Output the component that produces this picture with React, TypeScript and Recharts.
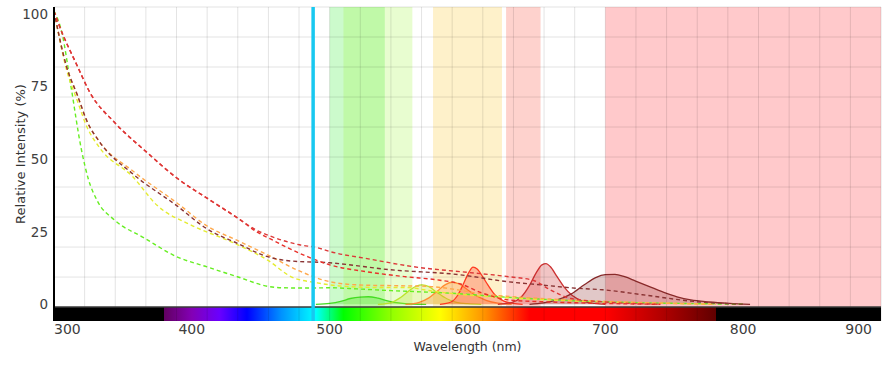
import { ComposedChart, XAxis, YAxis, Line, Area, ReferenceArea, ReferenceLine } from "recharts";

type Pt = [number, number];

const X_TICKS = [300, 400, 500, 600, 700, 800, 900];
const Y_TICKS = [0, 25, 50, 75, 100];

// Plot range; the strip below zero holds the colour bar
const X_DOMAIN: [number, number] = [300, 900];
const Y_DOMAIN: [number, number] = [-5.75, 102.41];
const AXIS_Y = -0.95;

const LASER_NM = 488;

// Filter windows (nm)
const FILTER_BANDS: Pt[] = [
  [500, 540],
  [510, 560],
  [575, 625],
  [628, 653],
  [700, 900],
];

// Visible spectrum strip, nm -> colour
const SPECTRUM_STOPS: [number, string][] = [
  [300, "#000000"],
  [379.8, "#000000"],
  [380, "#610061"],
  [400, "#8300b5"],
  [420, "#6a00ff"],
  [440, "#0000ff"],
  [465, "#0092ff"],
  [490, "#00ffff"],
  [510, "#00ff00"],
  [545, "#92ff00"],
  [580, "#ffff00"],
  [612, "#ff9400"],
  [645, "#ff0000"],
  [700, "#ff0000"],
  [740, "#b40000"],
  [780, "#610000"],
  [780.2, "#000000"],
  [900, "#000000"],
];

// Excitation spectra (dashed)
const EX_525: Pt[] = [
  [300, 101], [306, 93], [312, 76], [320, 53], [325, 43], [331, 36], [344, 29], [365, 23],
  [389, 16.4], [411, 12.9], [433, 9.5], [455, 6.2], [465, 5.7], [485, 5.6], [500, 5.7],
  [520, 5.3], [545, 4.7], [585, 3.9], [630, 2.4], [680, 1.2], [720, 0.6], [770, 0.2], [800, 0],
];
const EX_565: Pt[] = [
  [300, 101], [309, 81], [317, 70], [324, 61], [333, 54], [357, 44], [375, 34], [399, 27.4],
  [430, 21.2], [455, 15.2], [473, 9.3], [491, 7.4], [510, 6.2], [535, 5.8], [555, 5.8],
  [575, 4.5], [600, 3.2], [630, 2.2], [680, 1.1], [720, 0.6], [780, 0],
];
const EX_585: Pt[] = [
  [300, 101], [309, 82], [317, 72], [324, 63], [333, 56], [357, 46], [389, 35], [411, 27],
  [433, 22], [455, 17], [478, 11.5], [502, 7.6], [525, 6.6], [550, 6.4], [570, 6.2],
  [590, 5.2], [610, 3.6], [640, 2.4], [680, 1.4], [720, 0.7], [780, 0],
];
const EX_605: Pt[] = [
  [300, 101], [303, 97], [317, 82], [326, 73], [344, 62.6], [367, 52.5], [389, 43.5],
  [413, 36], [433, 29.8], [447, 25], [457, 22.5], [484, 16.4], [500, 13.6], [527, 11.2],
  [555, 9.5], [580, 8.3], [595, 7], [610, 4], [630, 1.5], [660, 0.8], [700, 0.3], [740, 0],
];
const EX_655: Pt[] = [
  [300, 101], [303, 97], [317, 82], [326, 73], [344, 62.6], [367, 52.5], [389, 43.6],
  [413, 35.9], [433, 29.8], [447, 25.5], [457, 23.5], [478, 20.5], [491, 19.5], [500, 18.2],
  [530, 15.5], [560, 13], [600, 11], [630, 9.5], [648, 8.2], [660, 5], [675, 2], [700, 0.8],
  [740, 0],
];
const EX_705: Pt[] = [
  [300, 101], [309, 82], [317, 72], [324, 63], [333, 56], [357, 45], [389, 34], [411, 26],
  [433, 21], [455, 16.4], [470, 15], [500, 14.3], [544, 11.9], [594, 10.2], [629, 7.8],
  [653, 6.7], [680, 5.5], [698, 5], [727, 3.3], [764, 1], [800, 0],
];

// Emission spectra (filled)
const EM_525: Pt[] = [
  [490, 0], [500, 0.3], [508, 1], [515, 2], [522, 2.5], [528, 2.6], [535, 2.1], [542, 1.2],
  [550, 0.5], [560, 0.1], [570, 0],
];
const EM_565: Pt[] = [
  [535, 0], [545, 0.7], [552, 2.5], [558, 4.8], [563, 6.3], [567, 6.7], [572, 6.1], [578, 4],
  [585, 1.9], [592, 0.7], [600, 0.2], [610, 0],
];
const EM_585: Pt[] = [
  [555, 0], [565, 0.7], [572, 2.2], [578, 4.5], [584, 6.8], [589, 7.6], [594, 7], [600, 5],
  [607, 2.8], [614, 1.3], [622, 0.4], [632, 0],
];
const EM_605: Pt[] = [
  [580, 0], [588, 0.8], [593, 3.2], [597, 7], [601, 11], [604, 12.8], [607, 12.2], [611, 9.5],
  [615, 6.5], [620, 3.2], [626, 1.2], [633, 0.3], [640, 0],
];
const EM_655: Pt[] = [
  [622, 0], [632, 0.6], [639, 2.5], [645, 6.5], [650, 11], [654, 13.6], [657, 14], [660, 13],
  [665, 9.5], [670, 6], [676, 3], [683, 1.2], [692, 0.3], [700, 0],
];
const EM_705: Pt[] = [
  [645, 0], [655, 0.5], [665, 1.5], [675, 3.5], [685, 6.8], [693, 9.2], [700, 10.2], [707, 10.3],
  [714, 9.5], [722, 8], [732, 6.1], [742, 4.2], [752, 2.6], [762, 1.5], [775, 0.8], [790, 0.3],
  [805, 0],
];

const BAND_COLORS = [
  "rgba(0, 230, 0, 0.2)",
  "rgba(150, 245, 40, 0.22)",
  "rgba(250, 200, 50, 0.26)",
  "rgba(250, 80, 60, 0.26)",
  "rgba(255, 60, 70, 0.28)",
];

const FONT = "'DejaVu Sans', Verdana, sans-serif";

const EXCITATION = [
  { data: EX_525, color: "#66ee22" },
  { data: EX_565, color: "#e4ec30" },
  { data: EX_585, color: "#ffa84a" },
  { data: EX_705, color: "#8a3434" },
  { data: EX_605, color: "#e8302a" },
  { data: EX_655, color: "#dc3838" },
];

const EMISSION = [
  { data: EM_525, color: "#44dd22", alpha: 0.3 },
  { data: EM_565, color: "#bde32b", alpha: 0.3 },
  { data: EM_585, color: "#ff8c30", alpha: 0.3 },
  { data: EM_605, color: "#ff3a20", alpha: 0.3 },
  { data: EM_655, color: "#cc3030", alpha: 0.28 },
  { data: EM_705, color: "#8a2a2a", alpha: 0.26 },
];

// vertical grid every 1/27 of the range, horizontal every ~10.3 units down from the top
const GRID_X = Array.from({ length: 27 }, (_, i) => X_DOMAIN[0] + ((i + 1) * (X_DOMAIN[1] - X_DOMAIN[0])) / 27);
const GRID_Y = Array.from({ length: 10 }, (_, i) => Y_DOMAIN[1] - (i * (Y_DOMAIN[1] - AXIS_Y)) / 10);

const toRows = (pts: Pt[]) => pts.map(([nm, v]) => ({ nm, v }));

function XTick(props: any) {
  const { x, y, payload } = props;
  const v = payload.value;
  const anchor = v === X_TICKS[0] ? "start" : v === X_TICKS[X_TICKS.length - 1] ? "end" : "middle";
  return (
    <text x={x} y={y} dy={13} textAnchor={anchor} fontFamily={FONT} fontSize={14} fill="#404040">
      {v}
    </text>
  );
}

function YTitle(props: any) {
  const { viewBox } = props;
  const cx = viewBox.x + 20;
  const cy = viewBox.y + viewBox.height / 2 - 10;
  return (
    <text
      x={cx}
      y={cy}
      transform={`rotate(-90 ${cx} ${cy})`}
      textAnchor="middle"
      dominantBaseline="central"
      fontFamily={FONT}
      fontSize={13}
      fill="#333"
    >
      Relative Intensity (%)
    </text>
  );
}

export default function App() {
  return (
    <div style={{ position: "absolute", left: 0, top: 0, background: "#fff" }}>
      <ComposedChart width={884} height={365} margin={{ top: 7, right: 3, bottom: 0, left: 0 }}>
        <defs>
          <linearGradient id="spectrum" x1="0" y1="0" x2="1" y2="0">
            {SPECTRUM_STOPS.map(([nm, c], i) => (
              <stop key={i} offset={(nm - X_DOMAIN[0]) / (X_DOMAIN[1] - X_DOMAIN[0])} stopColor={c} />
            ))}
          </linearGradient>
        </defs>
        <XAxis
          type="number"
          dataKey="nm"
          domain={X_DOMAIN}
          ticks={X_TICKS}
          allowDataOverflow
          height={44}
          axisLine={false}
          tickLine={false}
          tickSize={0}
          tickMargin={0}
          tick={<XTick />}
          label={{
            value: "Wavelength (nm)",
            position: "insideBottom",
            offset: 14,
            fontFamily: FONT,
            fontSize: 12.5,
            fill: "#333",
          }}
        />
        <YAxis
          type="number"
          domain={Y_DOMAIN}
          ticks={Y_TICKS}
          allowDataOverflow
          width={54}
          axisLine={{ stroke: "#000", strokeWidth: 2 }}
          tickLine={false}
          tickSize={0}
          tickMargin={6}
          tick={{ fontFamily: FONT, fontSize: 13.5, fill: "#404040" }}
          label={<YTitle />}
        />

        {FILTER_BANDS.map(([a, b], i) => (
          <ReferenceArea key={`band${i}`} x1={a} x2={b} y1={AXIS_Y} y2={Y_DOMAIN[1]} fill={BAND_COLORS[i]} fillOpacity={1} stroke="none" />
        ))}
        {GRID_X.map((v) => (
          <ReferenceLine key={`gx${v}`} x={v} stroke="rgba(0,0,0,0.11)" strokeWidth={1} segment={[{ x: v, y: AXIS_Y }, { x: v, y: Y_DOMAIN[1] }]} />
        ))}
        {GRID_Y.map((v) => (
          <ReferenceLine key={`gy${v}`} y={v} stroke="rgba(0,0,0,0.11)" strokeWidth={1} />
        ))}
        <ReferenceArea x1={X_DOMAIN[0]} x2={X_DOMAIN[1]} y1={Y_DOMAIN[0]} y2={AXIS_Y} fill="url(#spectrum)" fillOpacity={1} stroke="none" />
        <ReferenceLine y={AXIS_Y} stroke="#3a3a3a" strokeWidth={1.5} />

        {EMISSION.map((s, i) => (
          <Area
            key={`em${i}`}
            data={toRows(s.data)}
            dataKey="v"
            type="monotone"
            baseValue={0}
            stroke={s.color}
            strokeWidth={1.3}
            fill={s.color}
            fillOpacity={s.alpha}
            dot={false}
            activeDot={false}
            isAnimationActive={false}
          />
        ))}
        {EXCITATION.map((s, i) => (
          <Line
            key={`ex${i}`}
            data={toRows(s.data)}
            dataKey="v"
            type="monotone"
            stroke={s.color}
            strokeWidth={1.4}
            strokeDasharray="4 3"
            dot={false}
            activeDot={false}
            isAnimationActive={false}
          />
        ))}
        <ReferenceLine x={LASER_NM} stroke="#18c8f0" strokeWidth={3.5} segment={[{ x: LASER_NM, y: AXIS_Y }, { x: LASER_NM, y: Y_DOMAIN[1] }]} />
      </ComposedChart>
    </div>
  );
}
